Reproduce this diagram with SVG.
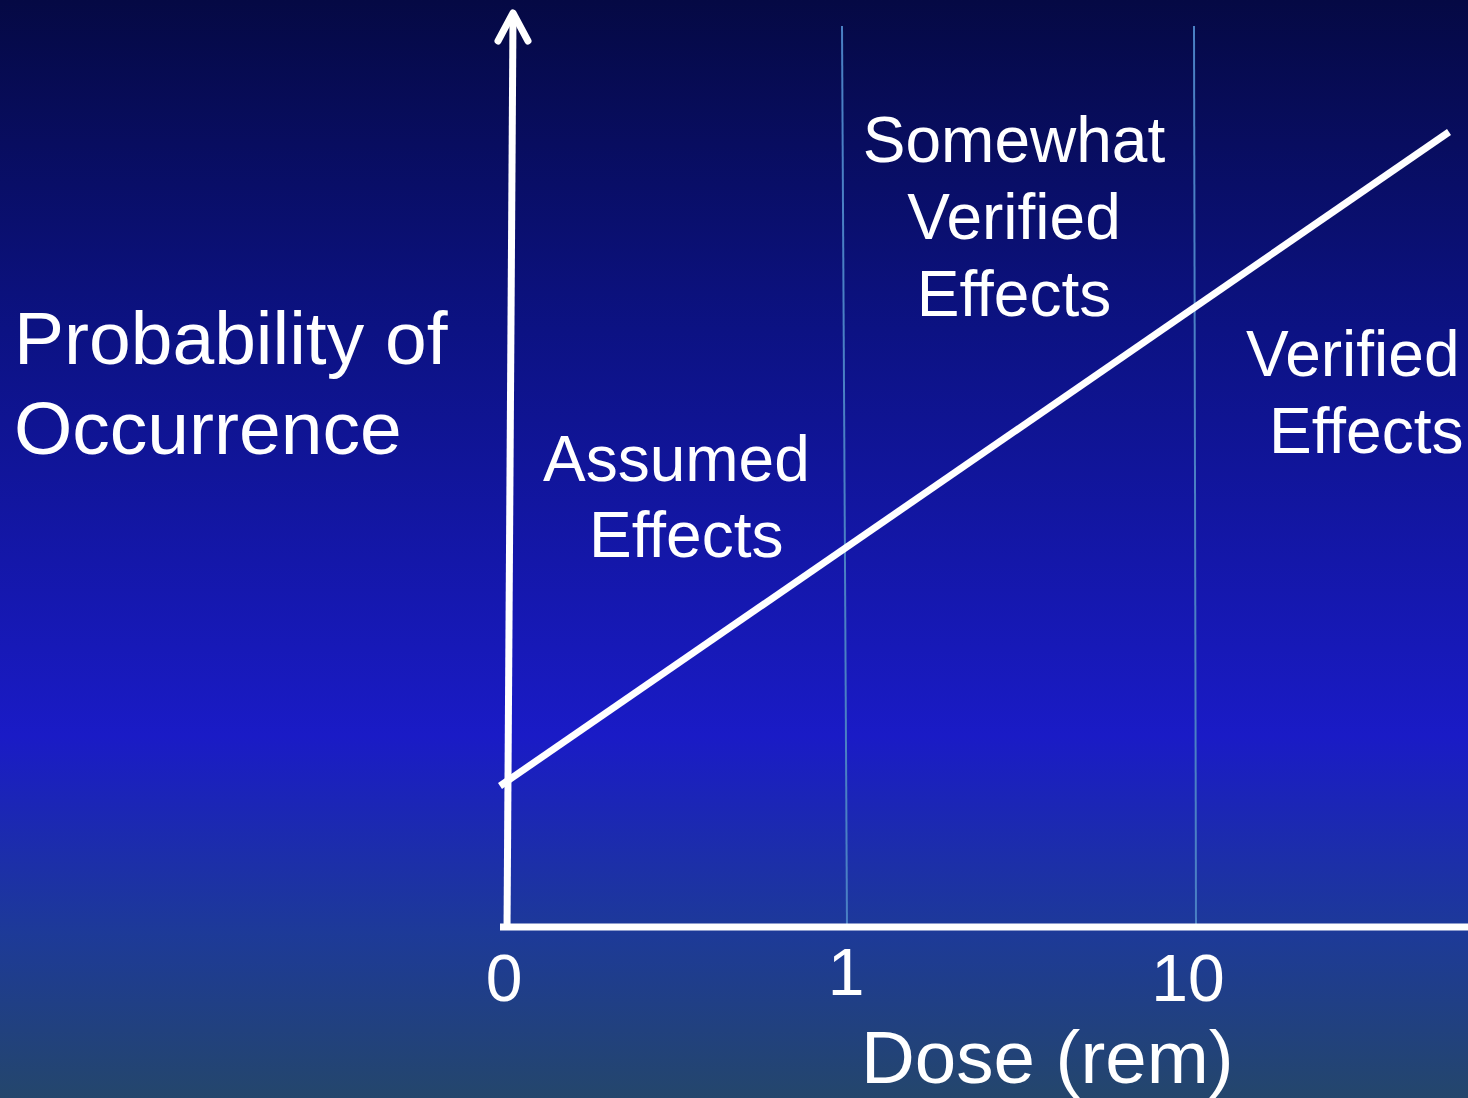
<svg xmlns="http://www.w3.org/2000/svg" width="1468" height="1098" viewBox="0 0 1468 1098">
  <defs>
    <linearGradient id="bg" x1="0" y1="0" x2="0" y2="1">
      <stop offset="0" stop-color="#050944"/>
      <stop offset="0.3" stop-color="#0c1283"/>
      <stop offset="0.67" stop-color="#1a1bc6"/>
      <stop offset="0.85" stop-color="#1d3a98"/>
      <stop offset="1" stop-color="#24466c"/>
    </linearGradient>
    <style>
      text { font-family: "Liberation Sans", Arial, sans-serif; fill: #ffffff; }
      .big { font-size: 75px; }
      .mid { font-size: 64px; }
      .tick { font-size: 66px; }
      .axis { stroke: #ffffff; stroke-width: 7; fill: none; }
      .grid { stroke: #4a80c4; stroke-width: 2; fill: none; }
    </style>
  </defs>
  <rect x="0" y="0" width="1468" height="1098" fill="url(#bg)"/>

  <g id="connectors">
    <line class="grid" x1="842" y1="26" x2="847" y2="927"/>
    <line class="grid" x1="1194" y1="26" x2="1196" y2="927"/>
    <line class="axis" x1="507" y1="930" x2="513" y2="16"/>
    <polyline class="axis" points="498,41 513,13 528,41" stroke-linecap="round" stroke-linejoin="round"/>
    <line class="axis" x1="500" y1="927" x2="1468" y2="927"/>
    <line class="axis" x1="500" y1="786" x2="1449" y2="132"/>
  </g>

  <g id="y-label">
    <text class="big" x="14" y="364">Probability of</text>
    <text class="big" x="14" y="454">Occurrence</text>
  </g>
  <g id="somewhat-verified">
    <text class="mid" x="1014" y="162" text-anchor="middle">Somewhat</text>
    <text class="mid" x="1014" y="239" text-anchor="middle">Verified</text>
    <text class="mid" x="1014" y="316" text-anchor="middle">Effects</text>
  </g>
  <g id="assumed">
    <text class="mid" x="543" y="481">Assumed</text>
    <text class="mid" x="589" y="557">Effects</text>
  </g>
  <g id="verified">
    <text class="mid" x="1246" y="376">Verified</text>
    <text class="mid" x="1269" y="453">Effects</text>
  </g>
  <g id="ticks">
    <text class="tick" x="504" y="1001" text-anchor="middle">0</text>
    <text class="tick" x="846" y="995" text-anchor="middle">1</text>
    <text class="tick" x="1188" y="1001" text-anchor="middle">10</text>
  </g>
  <g id="x-label">
    <text x="861" y="1083" style="font-size:74.5px">Dose (rem)</text>
  </g>
</svg>
